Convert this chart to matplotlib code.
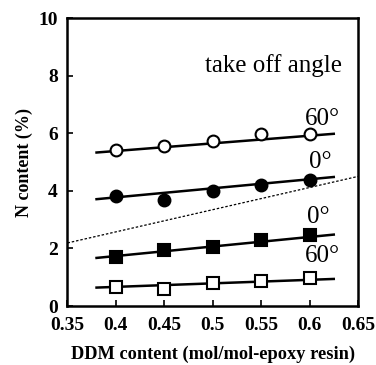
import matplotlib
matplotlib.use("Agg")
import matplotlib.pyplot as plt
import numpy as np

ddm = [0.4, 0.45, 0.5, 0.55, 0.6]
n_circle_60 = [5.42, 5.57, 5.72, 5.99, 5.99]
n_circle_0 = [3.81, 3.68, 4.00, 4.20, 4.37]
n_square_0 = [1.71, 1.95, 2.05, 2.30, 2.45]
n_square_60 = [0.66, 0.59, 0.79, 0.88, 0.98]

fit_x = [0.38, 0.625]
fit_circle_60 = [5.33, 5.98]
fit_circle_0 = [3.71, 4.48]
fit_square_0 = [1.67, 2.48]
fit_square_60 = [0.64, 0.94]

dot_x = [0.35, 0.65]
dot_y = [2.19, 4.50]

xticks = [0.35, 0.4, 0.45, 0.5, 0.55, 0.6, 0.65]
xticklabels = ["0.35", "0.4", "0.45", "0.5", "0.55", "0.6", "0.65"]
yticks = [0, 2, 4, 6, 8, 10]

plt.rcParams['font.family'] = ['Liberation Serif', 'DejaVu Serif']

fig = plt.figure(figsize=(3.76, 3.65), dpi=100)
ax = fig.add_axes([0.1795, 0.1616, 0.7725, 0.789])

lw = 1.8
ax.plot(fit_x, fit_circle_60, color='black', lw=lw, zorder=2)
ax.plot(fit_x, fit_circle_0, color='black', lw=lw, zorder=2)
ax.plot(fit_x, fit_square_0, color='black', lw=lw, zorder=2)
ax.plot(fit_x, fit_square_60, color='black', lw=lw, zorder=2)
ax.plot(dot_x, dot_y, color='black', lw=0.9, ls=(0, (2, 1.5)), zorder=1)

ms = 8.5
ax.plot(ddm, n_circle_60, 'o', ms=ms, mfc='white', mec='black', mew=1.5, zorder=3)
ax.plot(ddm, n_circle_0, 'o', ms=ms, mfc='black', mec='black', mew=1.5, zorder=3)
ax.plot(ddm, n_square_0, 's', ms=ms - 0.5, mfc='black', mec='black', mew=1.5, zorder=3)
ax.plot(ddm, n_square_60, 's', ms=ms - 0.5, mfc='white', mec='black', mew=1.5, zorder=3)

tfs = 18
ax.text(0.563, 8.35, "take off angle", fontsize=tfs, ha='center', va='center')
ax.text(0.613, 6.5, "60°", fontsize=tfs, ha='center', va='center')
ax.text(0.611, 5.0, "0°", fontsize=tfs, ha='center', va='center')
ax.text(0.609, 3.1, "0°", fontsize=tfs, ha='center', va='center')
ax.text(0.613, 1.72, "60°", fontsize=tfs, ha='center', va='center')

ax.set_xlim(0.35, 0.65)
ax.set_ylim(0, 10)
ax.set_xticks(xticks)
ax.set_xticklabels(xticklabels)
ax.set_yticks(yticks)
ax.tick_params(direction='in', length=4, width=1.2, labelsize=14)
ax.tick_params(axis='x', pad=8)
ax.tick_params(axis='y', pad=7)
for lab in ax.get_xticklabels() + ax.get_yticklabels():
    lab.set_fontweight('bold')
for s in ax.spines.values():
    s.set_linewidth(1.8)

ax.set_xlabel("DDM content (mol/mol-epoxy resin)", fontsize=13.2, fontweight='bold', labelpad=8)
ax.set_ylabel("N content (%)", fontsize=13, fontweight='bold', labelpad=4)

fig.savefig("out.png", dpi=100)
